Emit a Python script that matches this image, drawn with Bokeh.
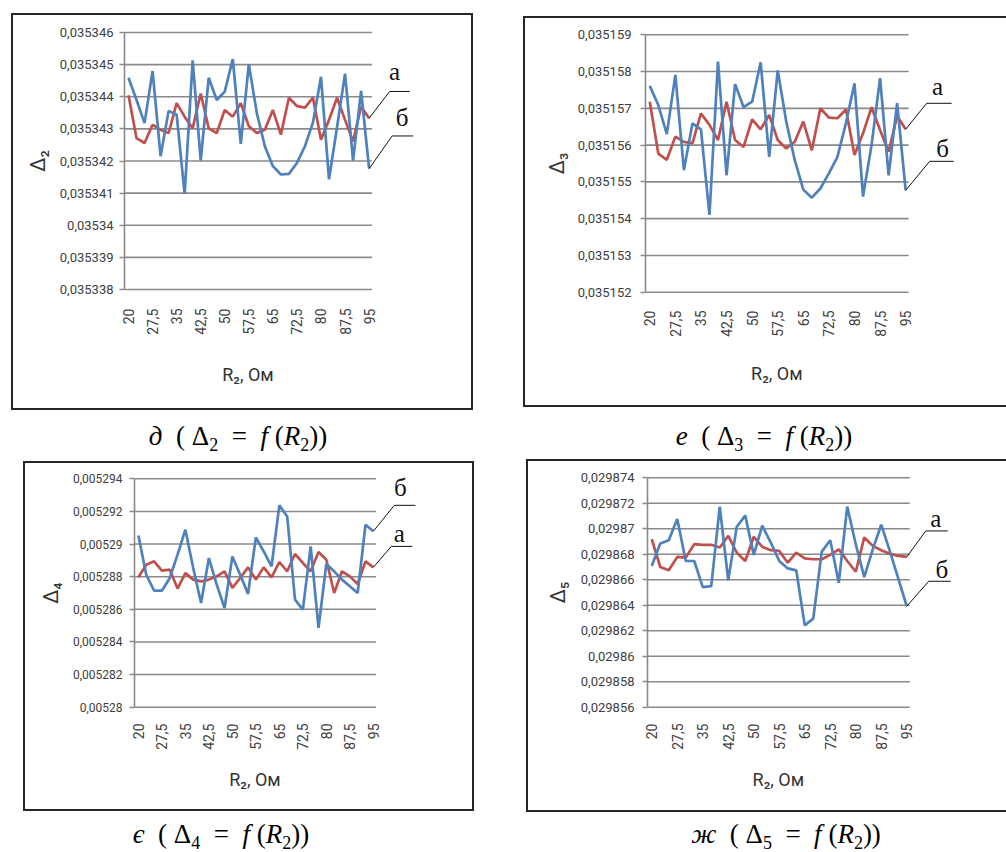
import math
from bokeh.plotting import figure
from bokeh.models import Range1d, FixedTicker, Spacer, Div, Title
from bokeh.layouts import row, column
from bokeh.core.properties import value
from bokeh.embed import file_html
from bokeh.resources import INLINE

# ---------------- data ----------------
r2 = [20, 22.5, 25, 27.5, 30, 32.5, 35, 37.5, 40, 42.5, 45, 47.5, 50, 52.5, 55,
      57.5, 60, 62.5, 65, 67.5, 70, 72.5, 75, 77.5, 80, 82.5, 85, 87.5, 90, 92.5, 95]

d2_a = [0.03534405, 0.03534271, 0.03534256, 0.03534313, 0.03534297, 0.03534287, 0.0353438,
        0.03534338, 0.03534302, 0.0353441, 0.03534302, 0.03534287, 0.03534359, 0.03534338,
        0.0353438, 0.03534308, 0.03534287, 0.03534297, 0.03534359, 0.03534282, 0.03534397,
        0.03534371, 0.03534366, 0.03534397, 0.03534266, 0.03534328, 0.03534397, 0.03534328,
        0.03534261, 0.03534369, 0.03534333]
d2_b = [0.03534459, 0.0353439, 0.03534318, 0.0353448, 0.03534215, 0.03534356, 0.03534344,
        0.03534098, 0.03534513, 0.03534201, 0.03534459, 0.0353439, 0.03534416, 0.03534517,
        0.03534253, 0.03534501, 0.03534349, 0.03534246, 0.03534184, 0.03534158, 0.0353416,
        0.03534194, 0.03534246, 0.0353432, 0.03534462, 0.03534143, 0.03534305, 0.03534472,
        0.03534201, 0.03534418, 0.03534176]

d3_a = [0.03515718, 0.03515577, 0.0351556, 0.03515623, 0.03515609, 0.03515605, 0.03515686,
        0.03515655, 0.03515614, 0.03515718, 0.03515614, 0.03515595, 0.0351567, 0.03515643,
        0.03515682, 0.03515614, 0.03515591, 0.03515609, 0.03515664, 0.03515586, 0.035157,
        0.03515675, 0.03515673, 0.03515697, 0.03515573, 0.03515632, 0.03515703, 0.03515641,
        0.03515582, 0.03515679, 0.03515643]
d3_b = [0.03515761, 0.03515709, 0.0351563, 0.03515791, 0.03515532, 0.03515659, 0.03515643,
        0.0351541, 0.03515827, 0.03515518, 0.03515766, 0.03515703, 0.03515718, 0.03515825,
        0.03515568, 0.03515803, 0.03515664, 0.03515559, 0.03515479, 0.03515457, 0.03515482,
        0.03515523, 0.03515568, 0.0351566, 0.03515768, 0.0351546, 0.035156, 0.03515782,
        0.03515518, 0.03515714, 0.03515477]

d4_a = [0.00528796, 0.00528873, 0.00528894, 0.00528837, 0.00528843, 0.00528727, 0.00528822,
        0.00528782, 0.00528771, 0.00528782, 0.00528802, 0.00528833, 0.00528731, 0.00528792,
        0.00528857, 0.00528782, 0.00528857, 0.00528796, 0.0052889, 0.00528833, 0.00528939,
        0.00528884, 0.00528833, 0.00528951, 0.00528904, 0.005287, 0.00528833, 0.00528802,
        0.00528755, 0.00528894, 0.00528857]
d4_b = [0.00529053, 0.00528812, 0.00528714, 0.00528714, 0.00528792, 0.00528935, 0.00529088,
        0.00528853, 0.00528639, 0.00528914, 0.00528751, 0.00528608, 0.00528924, 0.00528812,
        0.00528694, 0.00529041, 0.00528955, 0.00528863, 0.00529237, 0.00529169, 0.00528659,
        0.00528598, 0.00528986, 0.00528486, 0.00528878, 0.00528833, 0.00528782, 0.00528741,
        0.005287, 0.00529118, 0.00529078]

d5_a = [0.02986918, 0.029867, 0.02986674, 0.02986779, 0.02986774, 0.02986879, 0.02986874,
        0.02986874, 0.02986853, 0.02986945, 0.02986813, 0.02986747, 0.02986937, 0.02986858,
        0.02986832, 0.02986826, 0.02986734, 0.02986813, 0.02986768, 0.02986761, 0.02986761,
        0.02986795, 0.02986839, 0.02986747, 0.02986663, 0.02986932, 0.02986866, 0.02986832,
        0.02986805, 0.02986787, 0.02986779]
d5_b = [0.02986708, 0.02986884, 0.0298691, 0.02987076, 0.02986747, 0.02986747, 0.02986542,
        0.0298655, 0.02987174, 0.02986595, 0.02987016, 0.02987103, 0.02986795, 0.02987024,
        0.02986892, 0.02986747, 0.02986689, 0.02986674, 0.02986242, 0.02986295, 0.02986821,
        0.0298691, 0.02986576, 0.02987174, 0.02986879, 0.02986621, 0.02986839, 0.02987032,
        0.02986826, 0.02986611, 0.02986392]

y2_ticks = [0.035338, 0.035339, 0.03534, 0.035341, 0.035342, 0.035343, 0.035344, 0.035345, 0.035346]
y2_labels = ["0,035338", "0,035339", "0,03534", "0,035341", "0,035342", "0,035343", "0,035344", "0,035345", "0,035346"]
y3_ticks = [0.035152, 0.035153, 0.035154, 0.035155, 0.035156, 0.035157, 0.035158, 0.035159]
y3_labels = ["0,035152", "0,035153", "0,035154", "0,035155", "0,035156", "0,035157", "0,035158", "0,035159"]
y4_ticks = [0.00528, 0.005282, 0.005284, 0.005286, 0.005288, 0.00529, 0.005292, 0.005294]
y4_labels = ["0,00528", "0,005282", "0,005284", "0,005286", "0,005288", "0,00529", "0,005292", "0,005294"]
y5_ticks = [0.029856, 0.029858, 0.02986, 0.029862, 0.029864, 0.029866, 0.029868, 0.02987, 0.029872, 0.029874]
y5_labels = ["0,029856", "0,029858", "0,02986", "0,029862", "0,029864", "0,029866", "0,029868", "0,02987", "0,029872", "0,029874"]

x_title = "R₂, Ом"
series_names = ["а", "б"]

RED = "#C0504D"
BLUE = "#4F81BD"
GRID = "#8a8a8a"
TXT = "#404040"


def fmt(v):
    s = ("%g" % v)
    return s.replace(".", ",")


def make_panel(fig_rect, frame, x0px, step, ytop_px, ybot_px, ya_vals, yb_vals,
               yticks, ylabels, ylab, ylab_std, ytick_std, ytick_size, xtick_std, xtitle_std,
               offs_a, offs_b, border_css):
    fx, fy, fw, fh = fig_rect
    L, R, T, B = frame
    n = len(r2)
    x_start = -0.5 + (L - x0px) / step
    x_end = -0.5 + (R - x0px) / step
    ppu = (ybot_px - ytop_px) / (yticks[-1] - yticks[0])
    y_end = yticks[-1] + (ytop_px - T) / ppu
    y_start = yticks[0] - (B - ybot_px) / ppu

    p = figure(width=fw, height=fh, output_backend="svg", toolbar_location=None,
               x_range=Range1d(x_start, x_end), y_range=Range1d(y_start, y_end),
               min_border_left=L - fx, min_border_right=fx + fw - R,
               min_border_top=T - fy, min_border_bottom=fy + fh - B)
    p.outline_line_color = None
    p.background_fill_color = "white"
    p.border_fill_color = "white"
    p.xgrid.visible = False
    p.ygrid.visible = False
    p.styles = {"box-shadow": border_css}

    # gridlines over the category area
    gx1 = n - 1 + 0.35
    p.segment(x0=[-0.5] * len(yticks), x1=[gx1] * len(yticks), y0=yticks, y1=yticks,
              line_color=GRID, line_width=1.6)

    xs = list(range(n))
    p.line(xs, ya_vals, line_color=RED, line_width=2.7)
    p.line(xs, yb_vals, line_color=BLUE, line_width=2.7)

    # leader lines + labels
    for vals, offs, name in ((ya_vals, offs_a, series_names[0]), (yb_vals, offs_b, series_names[1])):
        ex, ey, hx, tx, ty = offs
        xl, yl = n - 1, vals[-1]
        exd = xl + ex / step
        eyd = yl - ey / ppu
        hxd = xl + hx / step
        p.segment(x0=[xl, exd], y0=[yl, eyd], x1=[exd, hxd], y1=[eyd, eyd],
                  line_color="#111111", line_width=1)
        p.text(x=[xl], y=[yl], text=[name], x_offset=tx, y_offset=ty,
               text_align="center", text_baseline="middle",
               text_font=value("Liberation Serif"), text_font_size="25px", text_color="#111111")

    xa = p.xaxis[0]
    idx = list(range(0, n, 3))
    xa.ticker = FixedTicker(ticks=idx)
    xa.major_label_overrides = {i: fmt(r2[i]) for i in idx}
    xa.major_label_orientation = math.pi / 2
    xa.axis_line_color = None
    xa.major_tick_line_color = None
    xa.minor_tick_line_color = None
    xa.major_tick_out = 0
    xa.major_tick_in = 0
    xa.major_label_standoff = xtick_std
    xa.major_label_text_font = "Roboto"
    xa.major_label_text_font_size = "14px"
    xa.major_label_text_color = TXT
    xa.bounds = (-0.5, gx1)

    # x-axis title centred on the category area
    title_w = 52
    data_center = (x0px + (x0px + step * (gx1 + 0.5))) / 2 - L
    p.add_layout(Title(text=x_title, align="left", offset=data_center - title_w / 2,
                       text_font="Roboto", text_font_size="18px", text_font_style="normal",
                       text_color="#333333", standoff=xtitle_std), "below")

    ya = p.yaxis[0]
    ya.ticker = FixedTicker(ticks=yticks)
    ya.major_label_overrides = dict(zip(yticks, ylabels))
    ya.axis_line_color = GRID
    ya.axis_line_width = 1.6
    ya.major_tick_out = 5
    ya.major_tick_in = 0
    ya.major_tick_line_color = GRID
    ya.major_tick_line_width = 1.6
    ya.minor_tick_line_color = None
    ya.major_label_standoff = ytick_std
    ya.major_label_text_font = "Roboto"
    ya.major_label_text_font_size = ytick_size
    ya.major_label_text_color = TXT
    ya.axis_label = ylab
    ya.axis_label_text_font = "Roboto"
    ya.axis_label_text_font_size = "20px"
    ya.axis_label_text_font_style = "normal"
    ya.axis_label_text_color = "#333333"
    ya.axis_label_standoff = ylab_std
    ya.bounds = (yticks[0], yticks[-1])
    return p


FULL = "0 0 0 2px #262626"
OPEN = "-2px 0 0 0 #262626, 0 -2px 0 0 #262626, 0 2px 0 0 #262626, -2px -2px 0 0 #262626, -2px 2px 0 0 #262626"

p1 = make_panel((13, 15, 458, 393), (124, 415, 29, 294), 124.0, 8.02, 32, 291, d2_a, d2_b,
                y2_ticks, y2_labels, "Δ₂", 7, 6, "13px", 16, 48,
                (20.5, -27, 40.5, 25.5, -47), (23, -33, 44, 33, -51), FULL)
p2 = make_panel((525, 18, 481, 387), (645, 960, 31, 295), 645.0, 8.53, 34.3, 291.7, d3_a, d3_b,
                y3_ticks, y3_labels, "Δ₃", 6, 9, "13px", 15, 42,
                (21, -26, 46, 32, -43), (24, -29, 48, 37, -42), OPEN)
p3 = make_panel((25, 463, 447, 346), (134, 420, 475, 710), 134.0, 7.83, 478.3, 706.7, d4_a, d4_b,
                y4_ticks, y4_labels, "Δ₄", 7, 7, "12px", 13, 28,
                (18, -21, 39, 26, -34), (21, -26, 42, 27, -44), FULL)
p4 = make_panel((528, 461, 478, 349), (647, 960, 474, 710), 647.0, 8.5, 477.3, 706.7, d5_a, d5_b,
                y5_ticks, y5_labels, "Δ₅", 8, 8, "13px", 13, 28,
                (19, -26, 41, 29, -38), (22, -25, 44, 35, -37), OPEN)


def caption(letter, sub, w, h, lh):
    sub_css = "font-size:18px;vertical-align:-6px;line-height:0"
    html = (f'<div style="width:{w}px;height:{h}px;line-height:{lh}px;text-align:center;'
            f'font-family:\'Liberation Serif\';font-size:27px;color:#000;white-space:nowrap">'
            f'<i>{letter}</i>&ensp;(&nbsp;Δ<sub style="{sub_css}">{sub}</sub>&ensp;=&ensp;'
            f'<i>f</i>&nbsp;(<i>R</i><sub style="{sub_css}">2</sub>))</div>')
    return Div(text=html, width=w, height=h, margin=0)


c1 = caption("д", "2", 476, 53, 56)
c2 = caption("е", "3", 484, 53, 56)
c3 = caption("є", "4", 442, 42, 48)
c4 = caption("ж", "5", 440, 42, 48)

top = row(Spacer(width=13, height=1), column(Spacer(width=1, height=15), p1),
          Spacer(width=54, height=1), column(Spacer(width=1, height=18), p2))
caps1 = row(c1, Spacer(width=46, height=1), c2)
bottom = row(Spacer(width=25, height=1), column(Spacer(width=1, height=2), p3),
             Spacer(width=56, height=1), p4)
caps2 = row(c3, Spacer(width=124, height=1), c4)

layout = column(top, caps1, bottom, caps2)

open("out.html", "w").write(file_html(layout, INLINE))
